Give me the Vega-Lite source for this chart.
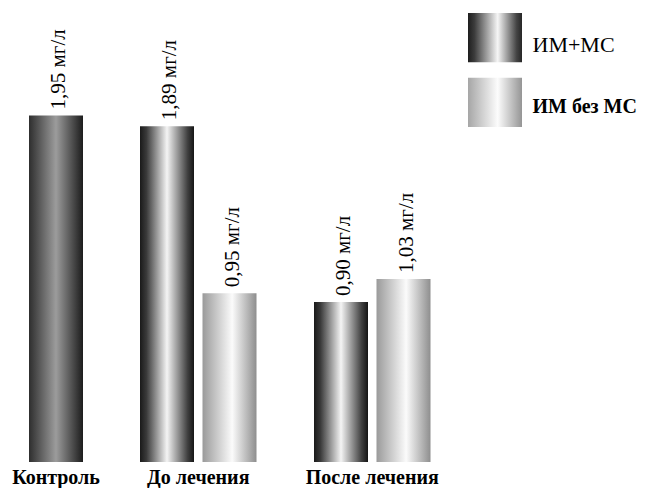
{
  "$schema": "https://vega.github.io/schema/vega-lite/v6.json",
  "padding": {"left": 12, "top": 0, "right": 0, "bottom": 0},
  "background": "white",
  "spacing": 29,
  "hconcat": [
    {
      "data": {
        "values": [
          {"group": "Контроль", "series": "Контроль", "value": 1.95},
          {"group": "До лечения", "series": "ИМ+МС", "value": 1.89},
          {"group": "До лечения", "series": "ИМ без МС", "value": 0.95},
          {"group": "После лечения", "series": "ИМ+МС", "value": 0.90},
          {"group": "После лечения", "series": "ИМ без МС", "value": 1.03}
        ]
      },
      "transform": [
        {"calculate": "replace(format(datum.value, '.2f'), '.', ',') + ' мг/л'", "as": "label"}
      ],
      "facet": {
        "column": {
          "field": "group",
          "type": "nominal",
          "sort": ["Контроль", "До лечения", "После лечения"],
          "title": null,
          "header": {
            "labelOrient": "bottom",
            "labelFont": "Liberation Serif",
            "labelFontSize": 20,
            "labelFontWeight": "bold",
            "labelColor": "black",
            "labelPadding": 6
          }
        }
      },
      "spacing": 57,
      "spec": {
        "width": {"step": 62.5},
        "height": 462,
        "encoding": {
          "x": {
            "field": "series",
            "type": "nominal",
            "sort": ["Контроль", "ИМ+МС", "ИМ без МС"],
            "axis": null,
            "scale": {"paddingInner": 0.136, "paddingOuter": 0}
          },
          "y": {
            "field": "value",
            "type": "quantitative",
            "axis": null,
            "scale": {"domain": [0, 2.6], "nice": false}
          }
        },
        "layer": [
          {
            "mark": {"type": "bar"},
            "encoding": {
              "fill": {
                "condition": [
                  {"test": "datum.series === 'Контроль'", "value": {"gradient": "linear", "x1": 0, "y1": 0, "x2": 1, "y2": 0, "stops": [{"offset": 0, "color": "#2e2e2e"}, {"offset": 0.5, "color": "#9c9c9c"}, {"offset": 1, "color": "#1c1c1c"}]}},
                  {"test": "datum.series === 'ИМ+МС'", "value": {"gradient": "linear", "x1": 0, "y1": 0, "x2": 1, "y2": 0, "stops": [{"offset": 0, "color": "#1a1a1a"}, {"offset": 0.12, "color": "#3a3a3a"}, {"offset": 0.5, "color": "#f4f4f4"}, {"offset": 0.88, "color": "#404040"}, {"offset": 1, "color": "#151515"}]}}
                ],
                "value": {"gradient": "linear", "x1": 0, "y1": 0, "x2": 1, "y2": 0, "stops": [{"offset": 0, "color": "#9a9a9a"}, {"offset": 0.55, "color": "#fbfbfb"}, {"offset": 1, "color": "#8e8e8e"}]}
              }
            }
          },
          {
            "mark": {
              "type": "text",
              "angle": 270,
              "align": "left",
              "baseline": "middle",
              "dx": 6,
              "dy": 3,
              "font": "Liberation Serif",
              "fontSize": 21,
              "color": "black"
            },
            "encoding": {
              "text": {"field": "label", "type": "nominal"}
            }
          }
        ]
      },
      "resolve": {"scale": {"x": "independent"}}
    },
    {
      "spacing": 10,
      "hconcat": [
        {
          "width": 54,
          "height": 140,
          "data": {"values": [{"series": "ИМ+МС"}, {"series": "ИМ без МС"}]},
          "mark": {"type": "rect"},
          "encoding": {
            "y": {
              "field": "series",
              "type": "nominal",
              "axis": null,
              "scale": {"domain": ["ИМ+МС", "ИМ без МС"], "paddingInner": 0.24, "paddingOuter": 0.2}
            },
            "fill": {
              "condition": {"test": "datum.series === 'ИМ+МС'", "value": {"gradient": "linear", "x1": 0, "y1": 0, "x2": 1, "y2": 0, "stops": [{"offset": 0, "color": "#1e1e1e"}, {"offset": 0.12, "color": "#3c3c3c"}, {"offset": 0.55, "color": "#f6f6f6"}, {"offset": 0.9, "color": "#444444"}, {"offset": 1, "color": "#262626"}]}},
              "value": {"gradient": "linear", "x1": 0, "y1": 0, "x2": 1, "y2": 0, "stops": [{"offset": 0, "color": "#a6a6a6"}, {"offset": 0.55, "color": "#fcfcfc"}, {"offset": 1, "color": "#959595"}]}
            }
          }
        },
        {
          "width": 1,
          "height": 140,
          "data": {"values": [{"series": "ИМ+МС"}, {"series": "ИМ без МС"}]},
          "encoding": {
            "y": {
              "field": "series",
              "type": "nominal",
              "axis": null,
              "scale": {"domain": ["ИМ+МС", "ИМ без МС"], "paddingInner": 0.24, "paddingOuter": 0.2}
            },
            "text": {"field": "series", "type": "nominal"}
          },
          "layer": [
            {
              "transform": [{"filter": "datum.series === 'ИМ+МС'"}],
              "mark": {"type": "text", "align": "left", "baseline": "middle", "dy": 10, "font": "Liberation Serif", "fontSize": 22, "color": "black"}
            },
            {
              "transform": [{"filter": "datum.series === 'ИМ без МС'"}],
              "mark": {"type": "text", "align": "left", "baseline": "middle", "dy": 2, "font": "Liberation Serif", "fontSize": 20, "fontWeight": "bold", "color": "black"}
            }
          ]
        }
      ]
    }
  ],
  "config": {
    "view": {"stroke": null},
    "font": "Liberation Serif"
  }
}
